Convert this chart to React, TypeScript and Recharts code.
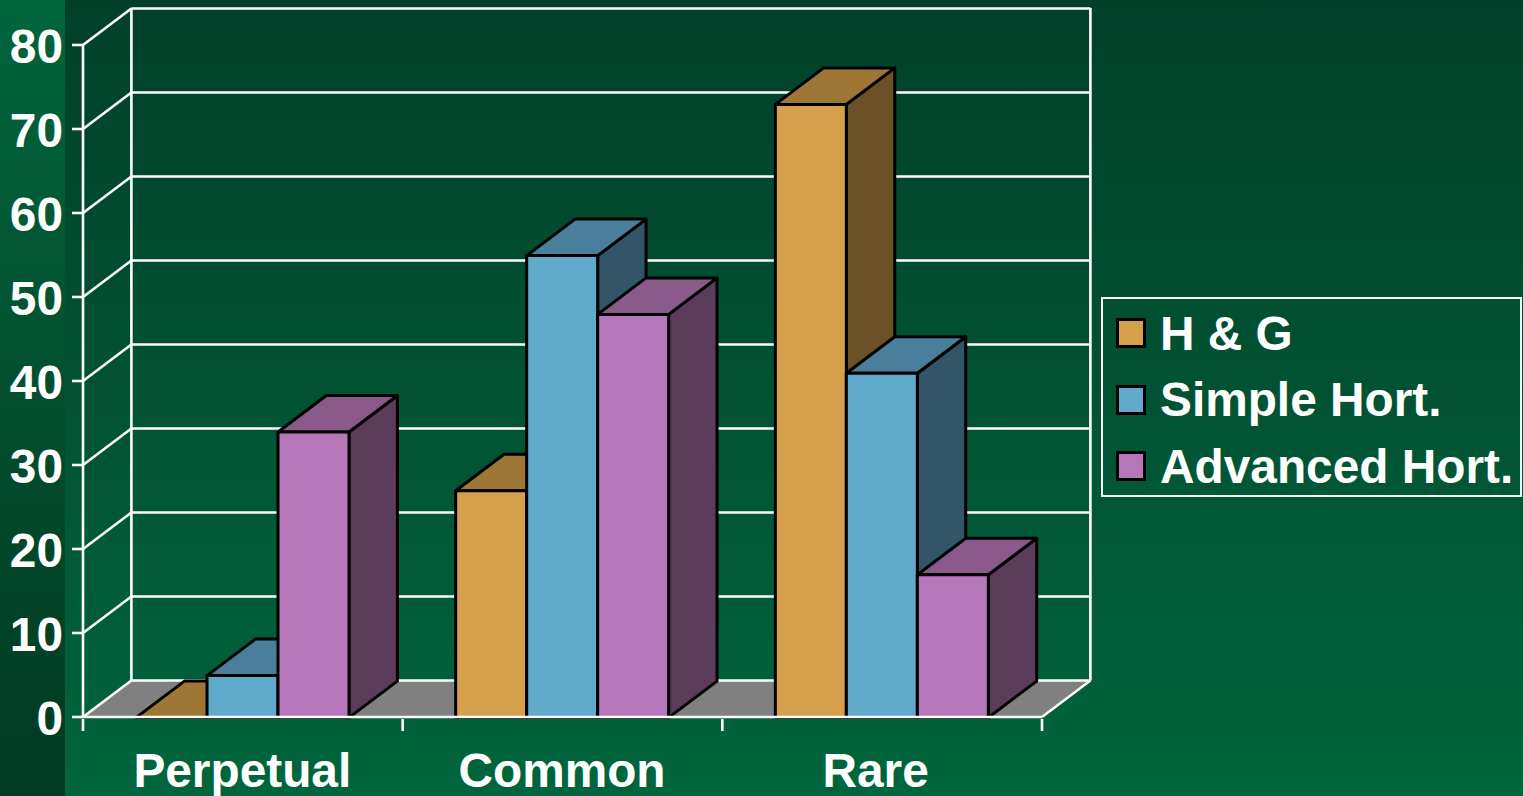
// 3D-look clustered bar chart. Recharts has no 3D bars, so the extrusion is drawn
// by a custom Bar shape and the walls/floor are hung off the CartesianGrid lines.

import { Bar, BarChart, CartesianGrid, Legend, XAxis, YAxis } from "recharts";

const categories = ["Perpetual", "Common", "Rare"];
const hgValues = [0, 27, 73];
const simpleValues = [5, 55, 41];
const advancedValues = [34, 48, 17];
const yTicks = [0, 10, 20, 30, 40, 50, 60, 70, 80];

const rows = categories.map((name, i) => ({
  name,
  hg: hgValues[i],
  simple: simpleValues[i],
  advanced: advancedValues[i],
}));

const WIDTH = 1523;
const HEIGHT = 796;
const DEPTH_X = 48.4;
const DEPTH_Y = 36.5;
const FONT = '"Liberation Sans", Arial, sans-serif';
const LABEL_SIZE = 47.8;
const WHITE_W = 2.6;

// front, top, side
const HG = ["#d4a04c", "#9e7636", "#6c5026"];
const SIMPLE = ["#60aacb", "#4a7f9c", "#325668"];
const ADVANCED = ["#b577b9", "#8a5a8a", "#5b3c5b"];

function bar3d(colors: string[]) {
  return (props: any) => {
    const { x, y, width, height } = props;
    const top = [
      [x, y],
      [x + DEPTH_X, y - DEPTH_Y],
      [x + width + DEPTH_X, y - DEPTH_Y],
      [x + width, y],
    ];
    const side = [
      [x + width, y],
      [x + width + DEPTH_X, y - DEPTH_Y],
      [x + width + DEPTH_X, y + height - DEPTH_Y],
      [x + width, y + height],
    ];
    const line = { stroke: "#000", strokeWidth: 3, strokeLinejoin: "round" as const };
    return (
      <g transform="translate(0, 0.6)">
        <polygon points={side.join(" ")} fill={colors[2]} {...line} />
        <polygon points={top.join(" ")} fill={colors[1]} {...line} />
        <rect x={x} y={y} width={width} height={height} fill={colors[0]} {...line} />
      </g>
    );
  };
}

// one wall line per y tick; the zero tick also brings the floor and the verticals
function wallLine(props: any) {
  const { x1, x2, y1, index } = props;
  const backY = y1 - DEPTH_Y;
  const isZero = y1 > 700;
  const white = { stroke: "#fff", strokeWidth: WHITE_W };
  return (
    <g key={`wall-${index}`}>
      {isZero && (
        <polygon
          points={`${x1},${y1} ${x1 + DEPTH_X},${backY} ${x2 + DEPTH_X},${backY} ${x2},${y1}`}
          fill="#808080"
        />
      )}
      {isZero && <line x1={x1 + DEPTH_X} x2={x1 + DEPTH_X} y1={8} y2={backY} {...white} />}
      {isZero && <line x1={x2 + DEPTH_X} x2={x2 + DEPTH_X} y1={8} y2={backY} {...white} />}
      {isZero && <line x1={x2} x2={x2 + DEPTH_X} y1={y1} y2={backY} {...white} />}
      <line x1={x1} x2={x1 + DEPTH_X} y1={y1} y2={backY} {...white} />
      <line x1={x1 + DEPTH_X} x2={x2 + DEPTH_X} y1={backY} y2={backY} {...white} />
    </g>
  );
}

function YTick({ x, y, payload }: any) {
  return (
    <text x={x - 7} y={y + 18} textAnchor="end" fill="#fff" fontFamily={FONT} fontWeight={700} fontSize={LABEL_SIZE}>
      {payload.value}
    </text>
  );
}

// tick marks sit on the category boundaries, not the band centres
function XTick({ x, y, width, index, payload }: any) {
  const band = width / categories.length;
  const axisY = y - 12;
  const white = { stroke: "#fff", strokeWidth: WHITE_W };
  // "Rare" sits a little left of its band centre in the original
  const nudge = payload.value === "Rare" ? -6.5 : -0.5;
  return (
    <g>
      <line x1={x - band / 2} x2={x - band / 2} y1={axisY} y2={axisY + 12} {...white} />
      {index === categories.length - 1 && (
        <line x1={x + band / 2} x2={x + band / 2} y1={axisY} y2={axisY + 12} {...white} />
      )}
      <text x={x + nudge} y={787} textAnchor="middle" fill="#fff" fontFamily={FONT} fontWeight={700} fontSize={LABEL_SIZE}>
        {payload.value}
      </text>
    </g>
  );
}

function LegendBox({ payload }: any) {
  return (
    <div
      style={{
        boxSizing: "border-box",
        width: 421.5,
        height: 200,
        border: "2.5px solid #fff",
        paddingTop: 1.5,
      }}
    >
      {(payload ?? []).map((item: any) => (
        <div
          key={item.value}
          style={{
            display: "flex",
            alignItems: "center",
            height: 66.5,
            color: "#fff",
            fontFamily: FONT,
            fontWeight: 700,
            fontSize: LABEL_SIZE,
            whiteSpace: "nowrap",
          }}
        >
          <span
            style={{
              boxSizing: "border-box",
              display: "inline-block",
              width: 30,
              height: 30,
              marginLeft: 13.5,
              marginRight: 14,
              background: item.color,
              border: "3px solid #000",
            }}
          />
          {item.value}
        </div>
      ))}
    </div>
  );
}

export default function App() {
  return (
    <div
      style={{
        position: "absolute",
        left: 0,
        top: 0,
        width: WIDTH,
        height: HEIGHT,
        overflow: "hidden",
        background: "linear-gradient(180deg, #02402a 0%, #00653d 100%)",
      }}
    >
      <div
        style={{
          position: "absolute",
          left: 0,
          top: 0,
          width: 65,
          height: HEIGHT,
          background: "linear-gradient(180deg, #00653d 0%, #03492c 62%, #003a22 100%)",
        }}
      />
      <div style={{ position: "absolute", left: 0, top: 0 }}>
        <BarChart
          width={WIDTH}
          height={HEIGHT}
          data={rows}
          margin={{ top: 45, right: 481, bottom: 0, left: 0 }}
          barCategoryGap={53}
          barGap={0}
        >
          <CartesianGrid horizontal={wallLine} vertical={false} stroke="#fff" />
          <XAxis
            dataKey="name"
            height={79}
            interval={0}
            tick={<XTick />}
            tickLine={false}
            tickSize={12}
            axisLine={{ stroke: "#fff", strokeWidth: WHITE_W }}
          />
          <YAxis
            width={83}
            domain={[0, 80]}
            ticks={yTicks}
            interval={0}
            tick={<YTick />}
            tickLine={{ stroke: "#fff", strokeWidth: WHITE_W }}
            tickSize={11}
            axisLine={{ stroke: "#fff", strokeWidth: WHITE_W }}
          />
          <Legend
            layout="vertical"
            align="center"
            verticalAlign="middle"
            itemSorter={null}
            content={<LegendBox />}
            wrapperStyle={{ left: 1100.5, top: 296.5, width: 421.5 }}
          />
          <Bar dataKey="hg" name="H & G" fill={HG[0]} shape={bar3d(HG)} isAnimationActive={false} />
          <Bar dataKey="simple" name="Simple Hort." fill={SIMPLE[0]} shape={bar3d(SIMPLE)} isAnimationActive={false} />
          <Bar dataKey="advanced" name="Advanced Hort." fill={ADVANCED[0]} shape={bar3d(ADVANCED)} isAnimationActive={false} />
        </BarChart>
      </div>
    </div>
  );
}
